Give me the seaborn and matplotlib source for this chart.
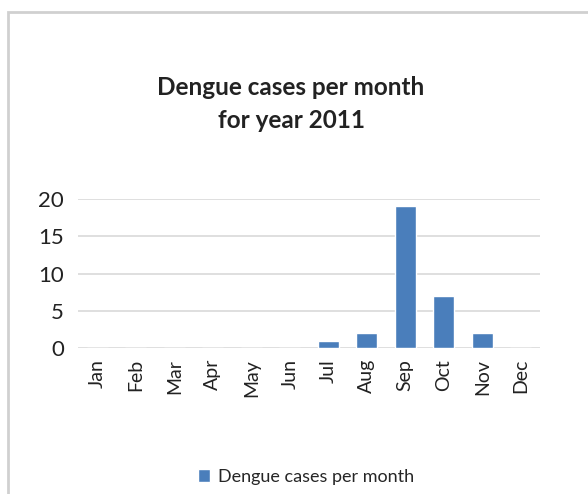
import numpy as np
import pandas as pd
import matplotlib
matplotlib.use("Agg")
import matplotlib.pyplot as plt
import seaborn as sns
from matplotlib.patches import Rectangle

months = ['Jan', 'Feb', 'Mar', 'Apr', 'May', 'Jun',
          'Jul', 'Aug', 'Sep', 'Oct', 'Nov', 'Dec']
cases = [0, 0, 0, 0, 0, 0, 1, 2, 19, 7, 2, 0]
y_ticks = [0, 5, 10, 15, 20]
series_name = 'Dengue cases per month'

df = pd.DataFrame({'month': months, 'cases': cases})

sns.set_style('white')
plt.rcParams['font.family'] = ['Lato', 'DejaVu Sans']

fig = plt.figure(figsize=(5.88, 4.94), dpi=100)
# outer chart frame
fig.patches.append(Rectangle((8 / 588, -0.1), 1.1, 1 - 12 / 494 + 0.1,
                             transform=fig.transFigure, fill=False,
                             edgecolor='#d0d0d0', linewidth=2))

ax = fig.add_axes([78 / 588, 1 - 348 / 494, (540 - 78) / 588, (348 - 199) / 494])
sns.barplot(data=df, x='month', y='cases', color='#4a7ebb', saturation=1,
            width=0.55, label=series_name, ax=ax)
handles, labels = ax.get_legend_handles_labels()
if ax.get_legend() is not None:
    ax.get_legend().remove()

ax.set_ylim(0, 20)
ax.set_yticks(y_ticks)
ax.yaxis.grid(True, color='#d9d9d9', linewidth=1.2)
ax.set_axisbelow(True)
for s in ax.spines.values():
    s.set_visible(False)
ax.set_xlabel('')
ax.set_ylabel('')
ax.tick_params(axis='y', labelsize=16, length=0, pad=10, colors='#222222')
ax.tick_params(axis='x', labelsize=14, length=0, pad=8, rotation=90, colors='#222222')
ax.set_xlim(-0.5, 11.5)

fig.text(0.495, 1 - 104 / 494, 'Dengue cases per month\nfor year 2011',
         ha='center', va='center', fontsize=17.5, fontweight='bold',
         color='#222222', linespacing=1.5)

fig.legend(handles, labels, loc='center', bbox_to_anchor=(0.52, 1 - 477 / 494),
           frameon=False, fontsize=13, handlelength=0.7, handleheight=0.7,
           handletextpad=0.4)

fig.savefig('out.png', dpi=100)
